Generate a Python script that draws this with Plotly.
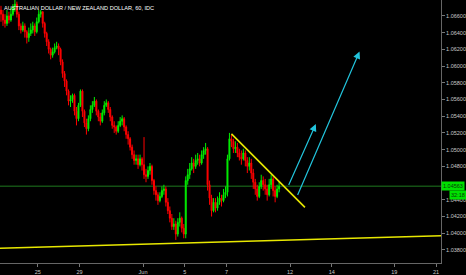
import plotly.graph_objects as go

# ---------------- data ----------------
title_text = "AUSTRALIAN DOLLAR / NEW ZEALAND DOLLAR, 60, IDC"

first_open = 1.0667
closes = [1.0662, 1.0655, 1.0651, 1.0660, 1.0655, 1.0662, 1.0670, 1.0674, 1.0662, 1.0648,
          1.0643, 1.0648, 1.0641, 1.0634, 1.0639, 1.0643, 1.0648, 1.0641, 1.0653, 1.0662,
          1.0665, 1.0651, 1.0639, 1.0629, 1.0620, 1.0613, 1.0617, 1.0622, 1.0624, 1.0620,
          1.0605, 1.0591, 1.0582, 1.0570, 1.0558, 1.0560, 1.0565, 1.0546, 1.0537, 1.0553,
          1.0570, 1.0546, 1.0532, 1.0525, 1.0537, 1.0548, 1.0553, 1.0558, 1.0546, 1.0539,
          1.0534, 1.0544, 1.0553, 1.0556, 1.0548, 1.0539, 1.0529, 1.0527, 1.0522, 1.0529,
          1.0534, 1.0537, 1.0527, 1.0518, 1.0513, 1.0503, 1.0494, 1.0487, 1.0489, 1.0482,
          1.0489, 1.0482, 1.0470, 1.0468, 1.0475, 1.0480, 1.0463, 1.0451, 1.0446, 1.0439,
          1.0444, 1.0451, 1.0453, 1.0437, 1.0427, 1.0418, 1.0408, 1.0411, 1.0399, 1.0413,
          1.0418, 1.0406, 1.0399, 1.0463, 1.0470, 1.0477, 1.0484, 1.0480, 1.0487, 1.0489,
          1.0484, 1.0494, 1.0499, 1.0501, 1.0458, 1.0442, 1.0427, 1.0437, 1.0430, 1.0437,
          1.0442, 1.0439, 1.0446, 1.0449, 1.0489, 1.0513, 1.0510, 1.0501, 1.0503, 1.0496,
          1.0491, 1.0489, 1.0496, 1.0487, 1.0480, 1.0484, 1.0472, 1.0461, 1.0453, 1.0444,
          1.0456, 1.0463, 1.0458, 1.0453, 1.0446, 1.0458, 1.0465, 1.0451, 1.0444, 1.0453,
          1.04563]
highs = [1.0672, 1.0667, 1.0662, 1.0667, 1.0665, 1.0670, 1.0674, 1.0679, 1.0677, 1.0665,
         1.0651, 1.0653, 1.0651, 1.0643, 1.0646, 1.0651, 1.0653, 1.0651, 1.0658, 1.0667,
         1.0667, 1.0665, 1.0653, 1.0641, 1.0632, 1.0622, 1.0622, 1.0627, 1.0629, 1.0627,
         1.0622, 1.0608, 1.0594, 1.0584, 1.0572, 1.0565, 1.0567, 1.0567, 1.0551, 1.0556,
         1.0572, 1.0572, 1.0548, 1.0537, 1.0541, 1.0553, 1.0558, 1.0563, 1.0560, 1.0548,
         1.0544, 1.0548, 1.0558, 1.0560, 1.0558, 1.0551, 1.0541, 1.0534, 1.0529, 1.0534,
         1.0539, 1.0541, 1.0539, 1.0529, 1.0522, 1.0515, 1.0506, 1.0499, 1.0494, 1.0494,
         1.0494, 1.0491, 1.0515, 1.0477, 1.0480, 1.0484, 1.0482, 1.0465, 1.0456, 1.0449,
         1.0449, 1.0456, 1.0458, 1.0456, 1.0442, 1.0432, 1.0423, 1.0418, 1.0415, 1.0418,
         1.0425, 1.0420, 1.0411, 1.0468, 1.0477, 1.0484, 1.0491, 1.0489, 1.0494, 1.0496,
         1.0494, 1.0499, 1.0503, 1.0508, 1.0503, 1.0463, 1.0446, 1.0442, 1.0442, 1.0444,
         1.0449, 1.0446, 1.0453, 1.0456, 1.0494, 1.0520, 1.0518, 1.0513, 1.0510, 1.0508,
         1.0501, 1.0499, 1.0501, 1.0499, 1.0491, 1.0491, 1.0489, 1.0477, 1.0465, 1.0458,
         1.0461, 1.0470, 1.0468, 1.0465, 1.0458, 1.0465, 1.0470, 1.0468, 1.0456, 1.0458,
         1.0462]
lows = [1.0653, 1.0648, 1.0646, 1.0648, 1.0651, 1.0653, 1.0660, 1.0665, 1.0658, 1.0643,
        1.0639, 1.0641, 1.0634, 1.0627, 1.0629, 1.0636, 1.0639, 1.0636, 1.0639, 1.0651,
        1.0658, 1.0646, 1.0634, 1.0624, 1.0615, 1.0608, 1.0610, 1.0615, 1.0620, 1.0613,
        1.0601, 1.0586, 1.0575, 1.0565, 1.0553, 1.0551, 1.0556, 1.0541, 1.0529, 1.0534,
        1.0551, 1.0539, 1.0527, 1.0518, 1.0522, 1.0534, 1.0544, 1.0551, 1.0541, 1.0534,
        1.0529, 1.0532, 1.0541, 1.0551, 1.0544, 1.0534, 1.0525, 1.0520, 1.0518, 1.0520,
        1.0527, 1.0529, 1.0522, 1.0513, 1.0506, 1.0499, 1.0489, 1.0482, 1.0482, 1.0477,
        1.0480, 1.0475, 1.0465, 1.0461, 1.0465, 1.0470, 1.0458, 1.0446, 1.0439, 1.0434,
        1.0437, 1.0442, 1.0446, 1.0432, 1.0423, 1.0413, 1.0404, 1.0404, 1.0392, 1.0396,
        1.0408, 1.0401, 1.0394, 1.0394, 1.0458, 1.0465, 1.0475, 1.0472, 1.0477, 1.0482,
        1.0480, 1.0482, 1.0489, 1.0494, 1.0451, 1.0434, 1.0420, 1.0425, 1.0425, 1.0427,
        1.0434, 1.0432, 1.0437, 1.0442, 1.0444, 1.0487, 1.0503, 1.0496, 1.0496, 1.0491,
        1.0487, 1.0482, 1.0487, 1.0480, 1.0472, 1.0475, 1.0465, 1.0453, 1.0446, 1.0439,
        1.0442, 1.0453, 1.0451, 1.0446, 1.0439, 1.0444, 1.0453, 1.0444, 1.0437, 1.0442,
        1.0449]
opens = [first_open] + closes[:-1]
bars = list(range(len(closes)))

x_tick_pos = [18.5, 39.5, 71.5, 92.5, 113.5, 145.5, 166.5, 198, 219]
x_tick_labels = ["25", "29", "Jun", "5", "7", "12", "14", "19", "21"]
# 1.04600 is hidden under the last-price label in the reference
y_tick_vals = [1.038, 1.040, 1.042, 1.044, 1.048, 1.050, 1.052, 1.054,
               1.056, 1.058, 1.060, 1.062, 1.064, 1.066]

last_price = 1.04563
countdown = "32:18"

# drawings (bar index, price)
support_line = [(-0.5, 1.0382), (221.5, 1.0397)]
resistance_line = [(116, 1.05188), (153, 1.04309)]
arrow_short = [(144.5, 1.04558), (158.5, 1.05306)]
arrow_long = [(149, 1.0444), (180.5, 1.06173)]

# ---------------- figure ----------------
fig = go.Figure()
fig.add_trace(go.Candlestick(
    x=bars, open=opens, high=highs, low=lows, close=closes,
    increasing=dict(line=dict(color="#00ee00", width=1), fillcolor="#00ee00"),
    decreasing=dict(line=dict(color="#ff0000", width=1), fillcolor="#ff0000"),
    whiskerwidth=0, showlegend=False, hoverinfo="skip",
))

YELLOW = "#e8e800"
CYAN = "#22c4dc"
for (x0, y0), (x1, y1) in [support_line, resistance_line]:
    fig.add_shape(type="line", xref="x", yref="y", x0=x0, y0=y0, x1=x1, y1=y1,
                  line=dict(color=YELLOW, width=1.6))

fig.add_shape(type="line", xref="paper", yref="y", x0=0, x1=1, y0=last_price, y1=last_price,
              line=dict(color="#1f7a1f", width=1), layer="below")

for (x0, y0), (x1, y1) in [arrow_short, arrow_long]:
    fig.add_annotation(x=x1, y=y1, ax=x0, ay=y0, xref="x", yref="y", axref="x", ayref="y",
                       showarrow=True, arrowhead=2, arrowsize=1.2, arrowwidth=1.2,
                       arrowcolor=CYAN, text="")

TICKFONT = dict(family="Liberation Sans, Arial, sans-serif", size=5.5, color="#c8c8c8")

fig.add_annotation(xref="paper", yref="paper", x=0, y=1, xanchor="left", yanchor="top",
                   xshift=2, yshift=-3, showarrow=False, text=title_text,
                   font=dict(family="Liberation Sans Narrow, Arial Narrow, Liberation Sans, sans-serif",
                             size=5.6, color="#ffffff"))

fig.add_annotation(xref="paper", yref="y", x=1, y=last_price, xanchor="left", yanchor="middle",
                   showarrow=False, text=str(last_price), bgcolor="#00e000",
                   borderpad=1, xshift=0,
                   font=dict(family="Liberation Sans, Arial, sans-serif", size=5.5, color="#0a3a0a"))
fig.add_annotation(xref="paper", yref="y", x=1, y=last_price, xanchor="left", yanchor="middle",
                   showarrow=False, text=countdown, bgcolor="#00e000",
                   borderpad=1, xshift=8, yshift=-9,
                   font=dict(family="Liberation Sans, Arial, sans-serif", size=5.5, color="#0a3a0a"))

fig.update_layout(
    width=466, height=275,
    margin=dict(l=0, r=22, t=0, b=10),
    paper_bgcolor="#000000", plot_bgcolor="#000000",
    showlegend=False,
    xaxis=dict(range=[-0.5, 221.5], rangeslider=dict(visible=False), showgrid=False,
               zeroline=False, tickvals=x_tick_pos, ticktext=x_tick_labels,
               ticks="outside", ticklen=3, tickcolor="#777777", tickfont=TICKFONT,
               showline=True, linecolor="#666666", linewidth=1, fixedrange=True),
    yaxis=dict(side="right", range=[1.03644, 1.0679], showgrid=False, zeroline=False,
               tickvals=y_tick_vals, tickformat=".5f", ticks="outside", ticklen=3,
               tickcolor="#777777", tickfont=TICKFONT, showline=True, linecolor="#666666",
               linewidth=1, fixedrange=True),
)

fig.write_html("out.html")
